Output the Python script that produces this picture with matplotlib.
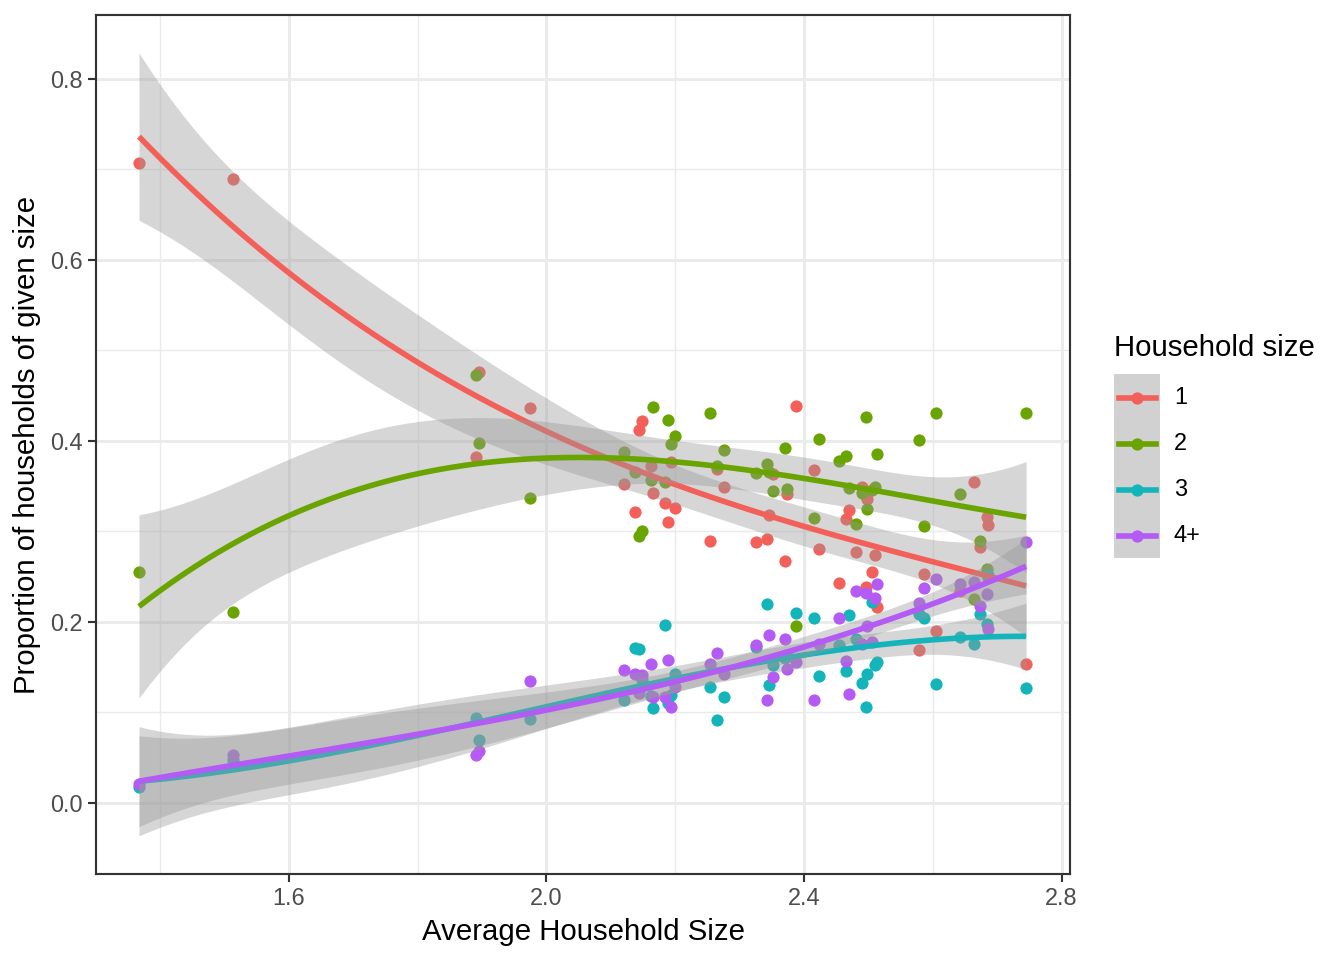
import numpy as np
import matplotlib.pyplot as plt
from matplotlib.lines import Line2D
from matplotlib.patches import Rectangle

plt.rcParams['font.family'] = ['Liberation Sans', 'DejaVu Sans']

# average household size of each area
avg_size = [1.367, 1.513, 1.890, 1.895, 1.975, 2.120, 2.137, 2.144, 2.149, 2.163,
            2.166, 2.184, 2.188, 2.194, 2.199, 2.254, 2.265, 2.276, 2.326, 2.342,
            2.346, 2.352, 2.371, 2.374, 2.388, 2.415, 2.423, 2.455, 2.465, 2.470,
            2.480, 2.490, 2.497, 2.498, 2.505, 2.511, 2.514, 2.578, 2.587, 2.605,
            2.642, 2.664, 2.673, 2.684, 2.686, 2.745]

# proportion of households of each size in that area
size_1 = [0.707, 0.690, 0.382, 0.476, 0.436, 0.352, 0.321, 0.412, 0.422, 0.372,
          0.342, 0.331, 0.310, 0.377, 0.326, 0.289, 0.369, 0.349, 0.288, 0.292,
          0.318, 0.364, 0.267, 0.341, 0.439, 0.368, 0.281, 0.243, 0.314, 0.324,
          0.277, 0.349, 0.239, 0.336, 0.255, 0.274, 0.217, 0.169, 0.253, 0.190,
          0.234, 0.355, 0.283, 0.316, 0.307, 0.154]
size_2 = [0.255, 0.211, 0.473, 0.398, 0.337, 0.388, 0.366, 0.295, 0.301, 0.357,
          0.437, 0.355, 0.423, 0.397, 0.406, 0.431, 0.372, 0.390, 0.365, 0.375,
          0.366, 0.345, 0.392, 0.347, 0.195, 0.315, 0.402, 0.378, 0.383, 0.348,
          0.308, 0.342, 0.427, 0.325, 0.346, 0.349, 0.386, 0.401, 0.306, 0.431,
          0.341, 0.225, 0.289, 0.259, 0.250, 0.431]
size_3 = [0.018, 0.048, 0.094, 0.070, 0.093, 0.114, 0.171, 0.170, 0.136, 0.118,
          0.105, 0.197, 0.110, 0.119, 0.142, 0.128, 0.092, 0.117, 0.172, 0.220,
          0.130, 0.152, 0.160, 0.163, 0.210, 0.204, 0.140, 0.175, 0.146, 0.208,
          0.181, 0.133, 0.106, 0.143, 0.222, 0.152, 0.156, 0.209, 0.204, 0.131,
          0.183, 0.176, 0.209, 0.198, 0.252, 0.127]
size_4 = [0.021, 0.053, 0.053, 0.057, 0.135, 0.147, 0.142, 0.122, 0.141, 0.153,
          0.117, 0.117, 0.158, 0.106, 0.128, 0.153, 0.166, 0.143, 0.174, 0.114,
          0.186, 0.139, 0.181, 0.148, 0.156, 0.114, 0.176, 0.204, 0.157, 0.120,
          0.234, 0.176, 0.232, 0.196, 0.178, 0.227, 0.242, 0.221, 0.238, 0.248,
          0.242, 0.244, 0.218, 0.231, 0.192, 0.288]

labels = ['1', '2', '3', '4+']
colors = ['#F3605A', '#6AA400', '#13B5BA', '#B45BF5']


def smooth(x, y, deg=3, ngrid=80):
    # polynomial least squares fit with 95% confidence band
    x = np.asarray(x)
    y = np.asarray(y)
    xc = x.mean()
    X = np.vander(x - xc, deg + 1)
    beta, *_ = np.linalg.lstsq(X, y, rcond=None)
    df = len(x) - (deg + 1)
    sigma = np.sqrt(np.sum((y - X @ beta) ** 2) / df)
    grid = np.linspace(x.min(), x.max(), ngrid)
    G = np.vander(grid - xc, deg + 1)
    cov = np.linalg.inv(X.T @ X)
    se = sigma * np.sqrt(np.einsum('ij,jk,ik->i', G, cov, G))
    z = 1.959964
    t = z + (z ** 3 + z) / (4 * df) + (5 * z ** 5 + 16 * z ** 3 + 3 * z) / (96 * df ** 2)
    fit = G @ beta
    return grid, fit, fit - t * se, fit + t * se


fig = plt.figure(figsize=(7, 5), dpi=192)
ax = fig.add_axes([96 / 1344, 1 - 874 / 960, (1070 - 96) / 1344, (874 - 15) / 960])

series = [size_1, size_2, size_3, size_4]
for ys, c in zip(series, colors):
    ax.scatter(avg_size, ys, s=21, color=c, linewidths=0, zorder=3)

z = 4
for ys, c in zip(series, colors):
    gx, fit, lo, hi = smooth(avg_size, ys)
    ax.fill_between(gx, lo, hi, color='#999999', alpha=0.4, linewidth=0, zorder=z)
    ax.plot(gx, fit, color=c, lw=2.1, zorder=z + 1, solid_capstyle='butt')
    z += 2

ax.set_xlim(1.3002, 2.8132)
ax.set_ylim(-0.0785, 0.8707)
ax.set_xticks([1.6, 2.0, 2.4, 2.8])
ax.set_xticks([1.4, 1.8, 2.2, 2.6], minor=True)
ax.set_yticks([0.0, 0.2, 0.4, 0.6, 0.8])
ax.set_yticks([0.1, 0.3, 0.5, 0.7], minor=True)
ax.set_xticklabels(['1.6', '2.0', '2.4', '2.8'])
ax.set_yticklabels(['0.0', '0.2', '0.4', '0.6', '0.8'])
ax.grid(which='major', color='#EBEBEB', lw=1.1, zorder=0)
ax.grid(which='minor', color='#EBEBEB', lw=0.55, zorder=0)
ax.set_axisbelow(True)
ax.tick_params(which='major', length=3, width=0.8, color='#333333',
               labelsize=8.8, labelcolor='#4D4D4D', pad=2)
ax.tick_params(which='minor', length=0)
for sp in ax.spines.values():
    sp.set_color('#333333')
    sp.set_linewidth(0.8)

ax.set_xlabel('Average Household Size', fontsize=11, labelpad=3)
ax.set_ylabel('Proportion of households of given size', fontsize=11, labelpad=3.5)

# legend drawn by hand in pixel coordinates
def px(xp, yp):
    return xp / 1344, 1 - yp / 960

fig.text(*px(1114, 348), 'Household size', fontsize=11, va='center', ha='left')
x0, y0 = px(1114, 558)
fig.add_artist(Rectangle((x0, y0), 46 / 1344, 184 / 960, transform=fig.transFigure,
                         facecolor='#999999', alpha=0.45, edgecolor='none'))
for i, (lab, c) in enumerate(zip(labels, colors)):
    yk = 398 + 46 * i
    xa, ya = px(1119, yk)
    xb, _ = px(1156, yk)
    fig.add_artist(Line2D([xa, xb], [ya, ya], transform=fig.transFigure, color=c, lw=2.1))
    xm, _ = px(1137, yk)
    fig.add_artist(Line2D([xm], [ya], transform=fig.transFigure, marker='o', ms=4.6,
                          color=c, mew=0, linestyle='none'))
    fig.text(*px(1174, yk), lab, fontsize=8.8, va='center', ha='left')

fig.savefig('out.png', dpi=192)
